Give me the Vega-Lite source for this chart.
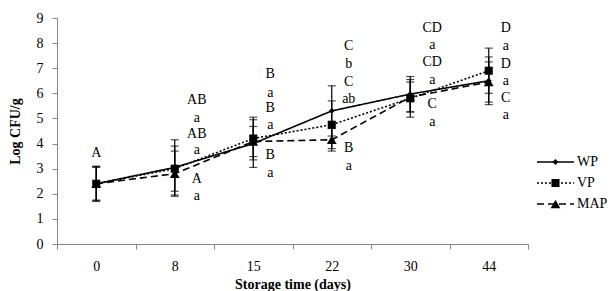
{
  "$schema": "https://vega.github.io/schema/vega-lite/v6.json",
  "background": "white",
  "padding": {"left": 8, "top": 11, "right": 2, "bottom": 2},
  "spacing": 7,
  "config": {
    "font": "Liberation Serif",
    "view": {"stroke": null},
    "axis": {
      "labelFont": "Liberation Serif",
      "titleFont": "Liberation Serif",
      "labelColor": "black",
      "titleColor": "black",
      "labelFontSize": 14,
      "titleFontSize": 14,
      "titleFontWeight": "bold",
      "domainColor": "#868686",
      "tickColor": "#868686",
      "tickSize": 5,
      "grid": false,
      "labelOverlap": false
    },
    "text": {"font": "Liberation Serif", "fontSize": 14, "color": "black"}
  },
  "datasets": {
    "counts": [
      {"day": 0, "series": "WP", "value": 2.4, "err": 0.7},
      {"day": 8, "series": "WP", "value": 3.05, "err": 1.1},
      {"day": 15, "series": "WP", "value": 4.0, "err": 0.95},
      {"day": 22, "series": "WP", "value": 5.3, "err": 1.0},
      {"day": 30, "series": "WP", "value": 5.97, "err": 0.7},
      {"day": 44, "series": "WP", "value": 6.5, "err": 0.95},
      {"day": 0, "series": "VP", "value": 2.4, "err": 0.65},
      {"day": 8, "series": "VP", "value": 3.0, "err": 0.9},
      {"day": 15, "series": "VP", "value": 4.2, "err": 0.85},
      {"day": 22, "series": "VP", "value": 4.75, "err": 0.95},
      {"day": 30, "series": "VP", "value": 5.8, "err": 0.75},
      {"day": 44, "series": "VP", "value": 6.9, "err": 0.9},
      {"day": 0, "series": "MAP", "value": 2.4, "err": 0.68},
      {"day": 8, "series": "MAP", "value": 2.8, "err": 0.9},
      {"day": 15, "series": "MAP", "value": 4.08, "err": 0.6},
      {"day": 22, "series": "MAP", "value": 4.15, "err": 0.45},
      {"day": 30, "series": "MAP", "value": 5.85, "err": 0.6},
      {"day": 44, "series": "MAP", "value": 6.45, "err": 0.8}
    ],
    "letters": [
      {"day": 0, "lab": "A", "at": 3.62},
      {"day": 8, "lab": "AB", "at": 5.73},
      {"day": 8, "lab": "a", "at": 5.02},
      {"day": 8, "lab": "AB", "at": 4.38},
      {"day": 8, "lab": "a", "at": 3.74},
      {"day": 8, "lab": "A", "at": 2.59},
      {"day": 8, "lab": "a", "at": 1.91},
      {"day": 15, "lab": "B", "at": 6.77},
      {"day": 15, "lab": "a", "at": 6.01},
      {"day": 15, "lab": "B", "at": 5.42},
      {"day": 15, "lab": "a", "at": 4.74},
      {"day": 15, "lab": "B", "at": 3.54},
      {"day": 15, "lab": "a", "at": 2.83},
      {"day": 22, "lab": "C", "at": 7.89},
      {"day": 22, "lab": "b", "at": 7.17},
      {"day": 22, "lab": "C", "at": 6.45},
      {"day": 22, "lab": "ab", "at": 5.77},
      {"day": 22, "lab": "B", "at": 3.82},
      {"day": 22, "lab": "a", "at": 3.11},
      {"day": 30, "lab": "CD", "at": 8.6},
      {"day": 30, "lab": "a", "at": 7.93},
      {"day": 30, "lab": "CD", "at": 7.25},
      {"day": 30, "lab": "a", "at": 6.53},
      {"day": 30, "lab": "C", "at": 5.58},
      {"day": 30, "lab": "a", "at": 4.86},
      {"day": 44, "lab": "D", "at": 8.6},
      {"day": 44, "lab": "a", "at": 7.89},
      {"day": 44, "lab": "D", "at": 7.17},
      {"day": 44, "lab": "a", "at": 6.49},
      {"day": 44, "lab": "C", "at": 5.81},
      {"day": 44, "lab": "a", "at": 5.14}
    ],
    "series": [
      {"series": "WP"},
      {"series": "VP"},
      {"series": "MAP"}
    ]
  },
  "hconcat": [
    {
      "width": 471,
      "height": 226,
      "layer": [
        {
          "data": {"name": "counts"},
          "mark": {"type": "line", "color": "black", "strokeWidth": 1.6},
          "encoding": {
            "x": {
              "field": "day", "type": "ordinal", "bandPosition": 0.5,
              "scale": {"type": "band", "paddingInner": 0, "paddingOuter": 0},
              "title": "Storage time (days)",
              "axis": {"tickBand": "extent", "labelAngle": 0, "labelPadding": 10, "titlePadding": 4}
            },
            "y": {
              "field": "value", "type": "quantitative",
              "scale": {"domain": [0, 9], "nice": false},
              "title": "Log CFU/g",
              "axis": {"values": [0, 1, 2, 3, 4, 5, 6, 7, 8, 9], "tickCount": 10, "labelOverlap": false, "labelPadding": 9, "titlePadding": 14}
            },
            "strokeDash": {
              "field": "series", "type": "nominal",
              "scale": {"domain": ["WP", "VP", "MAP"], "range": [[1, 0], [2, 2], [7, 4]]},
              "legend": null
            }
          }
        },
        {
          "data": {"name": "counts"},
          "mark": {"type": "errorbar", "ticks": {"size": 8, "color": "black"}, "color": "black", "thickness": 1.2},
          "encoding": {
            "x": {"field": "day", "type": "ordinal", "bandPosition": 0.5},
            "y": {"field": "value", "type": "quantitative", "title": "Log CFU/g"},
            "yError": {"field": "err"}
          }
        },
        {
          "data": {"name": "counts"},
          "mark": {"type": "point", "filled": true, "color": "black", "opacity": 1},
          "encoding": {
            "x": {"field": "day", "type": "ordinal", "bandPosition": 0.5},
            "y": {"field": "value", "type": "quantitative", "title": "Log CFU/g"},
            "shape": {
              "field": "series", "type": "nominal",
              "scale": {"domain": ["WP", "VP", "MAP"], "range": ["diamond", "square", "triangle-up"]},
              "legend": null
            },
            "size": {
              "field": "series", "type": "ordinal",
              "scale": {"domain": ["WP", "VP", "MAP"], "range": [35, 95, 70]},
              "legend": null
            }
          }
        },
        {
          "data": {"name": "letters"},
          "transform": [{"filter": "datum.day == 0"}],
          "mark": {"type": "text", "baseline": "middle", "align": "center"},
          "encoding": {
            "x": {"field": "day", "type": "ordinal", "bandPosition": 0.5},
            "y": {"field": "at", "type": "quantitative", "title": "Log CFU/g"},
            "text": {"field": "lab"}
          }
        },
        {
          "data": {"name": "letters"},
          "transform": [{"filter": "datum.day == 8 || datum.day == 30"}],
          "mark": {"type": "text", "baseline": "middle", "align": "center", "dx": 22},
          "encoding": {
            "x": {"field": "day", "type": "ordinal", "bandPosition": 0.5},
            "y": {"field": "at", "type": "quantitative", "title": "Log CFU/g"},
            "text": {"field": "lab"}
          }
        },
        {
          "data": {"name": "letters"},
          "transform": [{"filter": "datum.day == 15 || datum.day == 22 || datum.day == 44"}],
          "mark": {"type": "text", "baseline": "middle", "align": "center", "dx": 17},
          "encoding": {
            "x": {"field": "day", "type": "ordinal", "bandPosition": 0.5},
            "y": {"field": "at", "type": "quantitative", "title": "Log CFU/g"},
            "text": {"field": "lab"}
          }
        }
      ]
    },
    {
      "width": 37,
      "height": 226,
      "data": {"name": "series"},
      "encoding": {
        "y": {
          "field": "series", "type": "nominal",
          "scale": {"type": "point", "domain": ["WP", "VP", "MAP"], "range": [144, 186], "padding": 0},
          "axis": null
        }
      },
      "layer": [
        {
          "mark": {"type": "rule", "color": "black", "strokeWidth": 1.6},
          "encoding": {
            "x": {"datum": 0, "type": "quantitative", "scale": {"domain": [0, 1]}, "axis": null},
            "x2": {"datum": 1},
            "strokeDash": {
              "field": "series", "type": "nominal",
              "scale": {"domain": ["WP", "VP", "MAP"], "range": [[1, 0], [2, 2], [7, 4]]},
              "legend": null
            }
          }
        },
        {
          "mark": {"type": "point", "filled": true, "color": "black", "opacity": 1},
          "encoding": {
            "x": {"datum": 0.5, "type": "quantitative"},
            "shape": {
              "field": "series", "type": "nominal",
              "scale": {"domain": ["WP", "VP", "MAP"], "range": ["diamond", "square", "triangle-up"]},
              "legend": null
            },
            "size": {
              "field": "series", "type": "ordinal",
              "scale": {"domain": ["WP", "VP", "MAP"], "range": [35, 95, 70]},
              "legend": null
            }
          }
        },
        {
          "mark": {"type": "text", "align": "left", "baseline": "middle", "dx": 3},
          "encoding": {
            "x": {"datum": 1, "type": "quantitative"},
            "text": {"field": "series"}
          }
        }
      ]
    }
  ]
}
